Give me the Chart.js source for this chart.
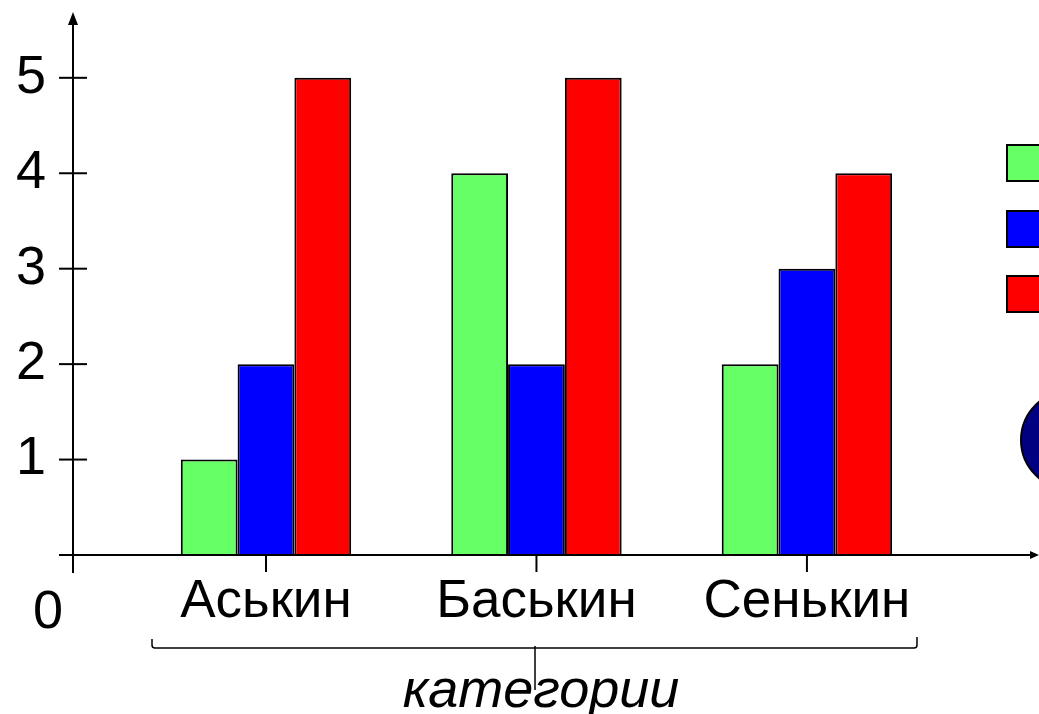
<!DOCTYPE html>
<html>
<head>
<meta charset="utf-8">
<script src="https://cdn.jsdelivr.net/npm/chart.js@4"></script>
<style>
  html, body { margin: 0; padding: 0; background: #fff; }
  canvas { display: block; }
</style>
</head>
<body>
<canvas id="chart" width="1039" height="714"></canvas>
<script>
// chart data
const categories = ['Аськин', 'Баськин', 'Сенькин'];
const seriesGreen = [1, 4, 2];
const seriesBlue = [2, 2, 3];
const seriesRed = [5, 5, 4];
const yTicks = [1, 2, 3, 4, 5];
const axisTitle = 'категории';

const FONT = '"Liberation Sans", Arial, sans-serif';

// turn a series into {x, y} points on the index axis
function points(values) {
    return values.map((v, i) => ({ x: i, y: v }));
}

// axes with arrows, tick marks, the brace and the cut-off legend at the right
const decorations = {
    id: 'decorations',
    afterDraw(chart) {
        const ctx = chart.ctx;
        const xs = chart.scales.x;
        const ys = chart.scales.y;
        const left = chart.chartArea.left;
        const y0 = ys.getPixelForValue(0);

        ctx.save();
        ctx.strokeStyle = '#000';
        ctx.fillStyle = '#000';
        ctx.lineWidth = 2;

        // y axis + arrow
        ctx.beginPath();
        ctx.moveTo(left, 22);
        ctx.lineTo(left, 573);
        ctx.stroke();
        ctx.beginPath();
        ctx.moveTo(left, 12);
        ctx.lineTo(left - 5, 25);
        ctx.lineTo(left + 5, 25);
        ctx.closePath();
        ctx.fill();

        // x axis + arrow
        ctx.beginPath();
        ctx.moveTo(59, y0);
        ctx.lineTo(1032, y0);
        ctx.stroke();
        ctx.beginPath();
        ctx.moveTo(1039, y0);
        ctx.lineTo(1030, y0 - 4);
        ctx.lineTo(1030, y0 + 4);
        ctx.closePath();
        ctx.fill();

        // y tick marks
        ys.ticks.forEach(t => {
            const py = ys.getPixelForValue(t.value);
            ctx.beginPath();
            ctx.moveTo(59, py);
            ctx.lineTo(87, py);
            ctx.stroke();
        });

        // x tick marks
        xs.ticks.forEach(t => {
            const px = xs.getPixelForValue(t.value);
            ctx.beginPath();
            ctx.moveTo(px, y0);
            ctx.lineTo(px, 572);
            ctx.stroke();
        });

        // origin label
        ctx.font = '54px ' + FONT;
        ctx.textAlign = 'center';
        ctx.textBaseline = 'middle';
        ctx.fillText('0', 48, 613);

        // brace under the categories
        ctx.lineWidth = 1.5;
        ctx.beginPath();
        ctx.moveTo(152, 639);
        ctx.lineTo(152, 645);
        ctx.quadraticCurveTo(152, 648, 155, 648);
        ctx.lineTo(914, 648);
        ctx.quadraticCurveTo(917, 648, 917, 645);
        ctx.lineTo(917, 637);
        ctx.stroke();
        ctx.beginPath();
        ctx.moveTo(535, 646);
        ctx.lineTo(535, 690);
        ctx.stroke();

        // axis title
        ctx.font = 'italic 54px ' + FONT;
        ctx.fillText(axisTitle, 541, 692);

        // legend boxes (text is outside the picture)
        ctx.lineWidth = 2;
        const boxTops = [145, 211, 276];
        chart.data.datasets.forEach((ds, i) => {
            ctx.fillStyle = ds.backgroundColor;
            ctx.fillRect(1007, boxTops[i], 40, 36);
            ctx.strokeRect(1007, boxTops[i], 40, 36);
        });

        // piece of the round mark at the right edge
        ctx.fillStyle = '#000080';
        ctx.beginPath();
        ctx.ellipse(1072, 440, 51, 50, 0, 0, Math.PI * 2);
        ctx.fill();
        ctx.stroke();

        ctx.restore();
    }
};

const ctx = document.getElementById('chart').getContext('2d');
new Chart(ctx, {
    type: 'bar',
    data: {
        datasets: [
            { label: 'ряд 1', data: points(seriesGreen), backgroundColor: '#66ff66' },
            { label: 'ряд 2', data: points(seriesBlue), backgroundColor: '#0000ff' },
            { label: 'ряд 3', data: points(seriesRed), backgroundColor: '#ff0000' }
        ]
    },
    options: {
        responsive: false,
        animation: false,
        devicePixelRatio: 1,
        layout: { padding: 0 },
        datasets: {
            bar: {
                borderColor: '#000',
                borderWidth: 2,
                categoryPercentage: 0.63,
                barPercentage: 1
            }
        },
        plugins: {
            legend: { display: false },
            tooltip: { enabled: false }
        },
        scales: {
            x: {
                type: 'linear',
                offset: false,
                min: -0.7135,
                max: 2.858,
                grid: { display: false, drawTicks: false },
                border: { display: false },
                afterBuildTicks: s => { s.ticks = categories.map((c, i) => ({ value: i })); },
                afterFit: s => { s.height = 159; },
                ticks: {
                    padding: 16,
                    color: '#000',
                    font: { family: FONT, size: 53 },
                    maxRotation: 0,
                    autoSkip: false,
                    callback: v => categories[v]
                }
            },
            y: {
                min: 0,
                max: 5.193,
                grid: { display: false, drawTicks: false },
                border: { display: false },
                afterBuildTicks: s => { s.ticks = yTicks.map(v => ({ value: v })); },
                afterFit: s => { s.width = 73; },
                ticks: {
                    padding: 27,
                    color: '#000',
                    font: { family: FONT, size: 54 },
                    callback: v => String(v)
                }
            }
        }
    },
    plugins: [decorations]
});
</script>
</body>
</html>
